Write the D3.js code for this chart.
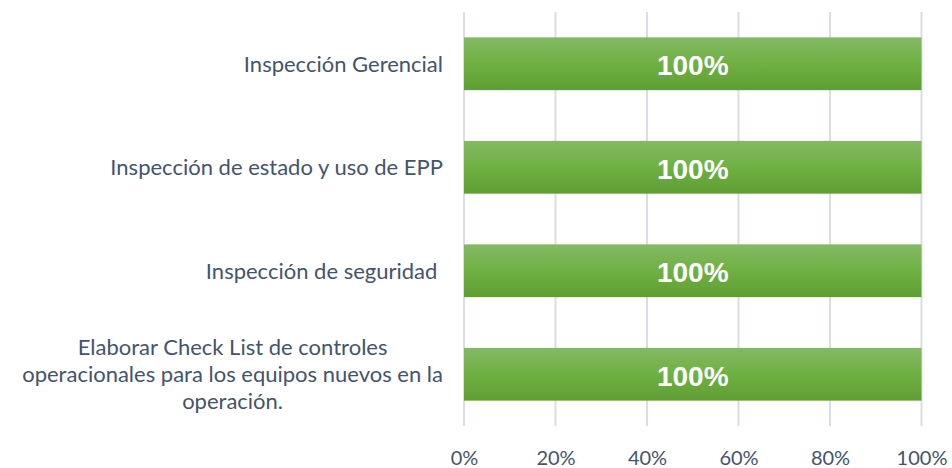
<!DOCTYPE html>
<html>
<head>
<meta charset="utf-8">
<script src="https://cdn.jsdelivr.net/npm/d3@7"></script>
<style>
  body { margin: 0; background: #fff; }
  svg { display: block; }
</style>
</head>
<body>
<svg id="chart"></svg>
<script>
// Data
const categories = [
  "Inspección Gerencial",
  "Inspección de estado y uso de EPP",
  "Inspección de seguridad ",
  "Elaborar Check List de controles operacionales para los equipos nuevos en la operación."
];
const values = [1, 1, 1, 1];
const xTicks = [0, 0.2, 0.4, 0.6, 0.8, 1];

const width = 952, height = 468;
const margin = {top: 12, right: 30, bottom: 42, left: 464};
const innerW = width - margin.left - margin.right;
const innerH = height - margin.top - margin.bottom;
const textColor = "#44546A";
const labelFont = "Lato, 'Open Sans', sans-serif";
const labelSize = "22px";

const svg = d3.select("#chart")
  .attr("width", width)
  .attr("height", height);

const defs = svg.append("defs");
const grad = defs.append("linearGradient")
  .attr("id", "barGrad")
  .attr("x1", 0).attr("y1", 0).attr("x2", 0).attr("y2", 1);
grad.append("stop").attr("offset", "0%").attr("stop-color", "#84B964");
grad.append("stop").attr("offset", "50%").attr("stop-color", "#6FB042");
grad.append("stop").attr("offset", "100%").attr("stop-color", "#5F9E34");

const chart = svg.append("g")
  .attr("transform", `translate(${margin.left},${margin.top})`);

const xScale = d3.scaleLinear().domain([0, 1]).range([0, innerW - 0.5]);
const yScale = d3.scaleBand()
  .domain(categories)
  .range([0, innerH])
  .paddingInner(0.49)
  .paddingOuter(0.245);

// Gridlines
chart.append("g")
  .selectAll("line")
  .data(xTicks)
  .join("line")
  .attr("x1", d => xScale(d))
  .attr("x2", d => xScale(d))
  .attr("y1", 0)
  .attr("y2", innerH)
  .attr("stroke", "#D9DDE5")
  .attr("stroke-width", 2);

// Bars
chart.append("g")
  .selectAll("rect")
  .data(categories)
  .join("rect")
  .attr("x", xScale(0))
  .attr("y", d => yScale(d))
  .attr("width", (d, i) => xScale(values[i]) - xScale(0))
  .attr("height", yScale.bandwidth())
  .attr("fill", "url(#barGrad)");

// Bar labels
chart.append("g")
  .selectAll("text")
  .data(categories)
  .join("text")
  .attr("x", (d, i) => (xScale(0) + xScale(values[i])) / 2)
  .attr("y", d => yScale(d) + yScale.bandwidth() / 2 + 1.5)
  .attr("dy", "0.36em")
  .attr("text-anchor", "middle")
  .attr("fill", "#fff")
  .style("font-family", "'Liberation Sans', Arial, sans-serif")
  .style("font-weight", "bold")
  .style("font-size", "28px")
  .text((d, i) => d3.format(".0%")(values[i]));

// X axis
const xAxis = d3.axisBottom(xScale)
  .tickValues(xTicks)
  .tickFormat(d3.format(".0%"))
  .tickSize(0)
  .tickPadding(25);

const xAxisG = chart.append("g")
  .attr("transform", `translate(0,${innerH})`)
  .call(xAxis);
xAxisG.select(".domain").remove();
xAxisG.selectAll("text")
  .attr("fill", textColor)
  .style("font-family", labelFont)
  .style("font-size", "20px");

// Category labels (wrapped, block right-aligned, lines centred)
const maxLabelW = 440;
const lineH = 27;
const labelG = chart.append("g");
categories.forEach(cat => {
  const g = labelG.append("g");
  const words = cat.split(" ");
  const probe = g.append("text")
    .style("font-family", labelFont)
    .style("font-size", labelSize)
    .style("white-space", "pre");
  const measure = s => { probe.text(s); return probe.node().getComputedTextLength(); };
  let lines = [], line = [];
  words.forEach(w => {
    line.push(w);
    if (measure(line.join(" ")) > maxLabelW && line.length > 1) {
      line.pop();
      lines.push(line.join(" "));
      line = [w];
    }
  });
  lines.push(line.join(" "));
  // full width (incl. trailing space) per line
  const widths = lines.map(l => measure(l));
  const maxW = d3.max(widths);
  probe.remove();
  const rightX = -21;
  const cx = rightX - maxW / 2;
  const cy = yScale(cat) + yScale.bandwidth() / 2;
  g.selectAll("text")
    .data(lines)
    .join("text")
    .attr("x", (l, i) => cx - widths[i] / 2)
    .attr("y", (l, i) => cy + (i - (lines.length - 1) / 2) * lineH)
    .attr("dy", "0.36em")
    .attr("text-anchor", "start")
    .attr("fill", textColor)
    .style("font-family", labelFont)
    .style("font-size", labelSize)
    .text(l => l.trimEnd());
});
</script>
</body>
</html>
